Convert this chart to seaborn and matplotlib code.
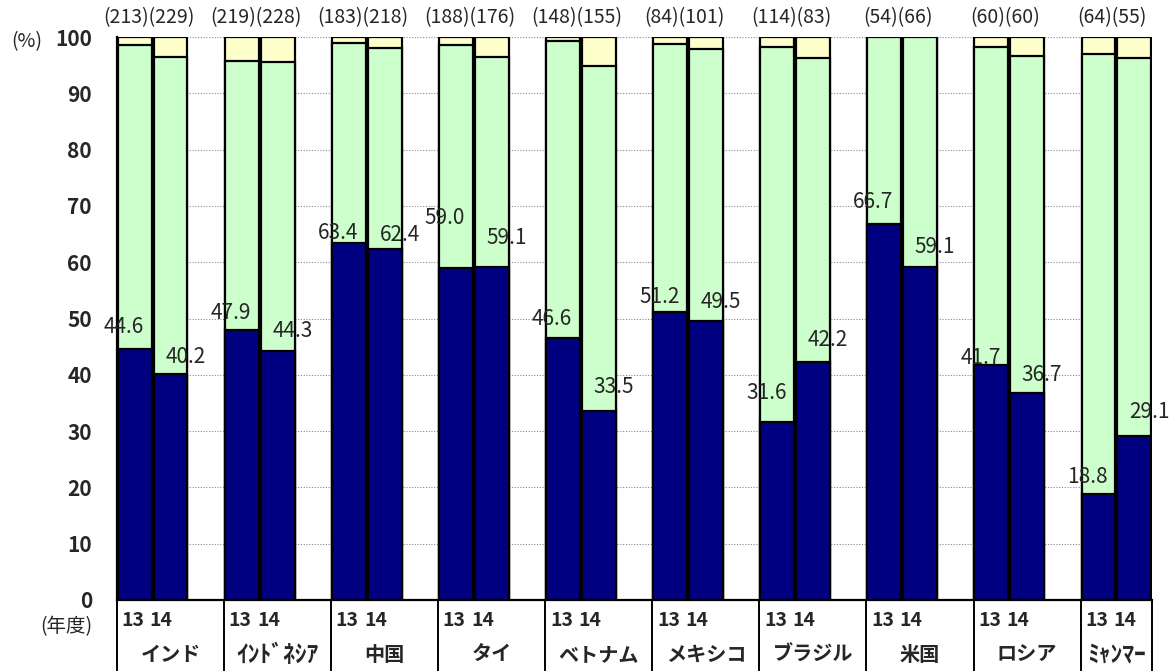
import numpy as np
import pandas as pd
import matplotlib
matplotlib.use("Agg")
import matplotlib.pyplot as plt
import matplotlib.transforms as mtransforms
import seaborn as sns

# --- Data ---
countries = ["インド", "ｲﾝﾄﾞﾈｼｱ", "中国", "タイ", "ベトナム",
             "メキシコ", "ブラジル", "米国", "ロシア", "ﾐｬﾝﾏｰ"]
years = ["13", "14"]
navy_13 = [44.6, 47.9, 63.4, 59.0, 46.6, 51.2, 31.6, 66.7, 41.7, 18.8]
navy_14 = [40.2, 44.3, 62.4, 59.1, 33.5, 49.5, 42.2, 59.1, 36.7, 29.1]
yellow_13 = [1.4, 4.2, 1.0, 1.5, 0.7, 1.2, 1.7, 0.0, 1.7, 3.1]
yellow_14 = [3.6, 4.5, 2.0, 3.6, 5.2, 2.1, 3.8, 0.0, 3.3, 3.8]
n_13 = [213, 219, 183, 188, 148, 84, 114, 54, 60, 64]
n_14 = [229, 228, 218, 176, 155, 101, 83, 66, 60, 55]

NAVY = "#000080"
GREEN = "#CCFFCC"
YELLOW = "#FFFFCC"

# label lift above bar top (pixels), per bar (13, 14) in country order
label_lift = [22, 17, 17, 20, 10, 14, 50, 29, 19, 24,
              15, 19, 29, 22, 22, 20, 7, 18, 17, 24]

# --- Build long table ---
rows = []
for g, c in enumerate(countries):
    for k, (nv, yl) in enumerate([(navy_13[g], yellow_13[g]), (navy_14[g], yellow_14[g])]):
        rows.append({"pos": 3 * g + 0.5 + k, "country": c, "year": years[k],
                     "navy": nv, "green_top": 100 - yl, "total": 100.0})
df = pd.DataFrame(rows)

sns.set_style("white")
plt.rcParams["font.family"] = ["Noto Sans CJK JP", "DejaVu Sans"]

fig = plt.figure(figsize=(11.73, 6.71), dpi=100)
ax = fig.add_axes([117 / 1173, 71 / 671, 1035 / 1173, 563 / 671])

common = dict(x="pos", native_scale=True, width=0.95, edgecolor="black",
              linewidth=1.6, saturation=1, errorbar=None, ax=ax, zorder=2)
sns.barplot(data=df, y="total", color=YELLOW, **common)
sns.barplot(data=df, y="green_top", color=GREEN, **common)
sns.barplot(data=df, y="navy", color=NAVY, **common)

ax.set_xlim(0, 29)
ax.set_ylim(0, 100)
ax.set_yticks(np.arange(0, 101, 10))
ax.set_xticks([])
ax.set_xlabel("")
ax.set_ylabel("")
ax.yaxis.grid(True, linestyle=(0, (1, 1.5)), color="#888888", linewidth=0.8, zorder=0)
ax.set_axisbelow(True)
for s in ["top", "right"]:
    ax.spines[s].set_visible(False)
for s in ["left", "bottom"]:
    ax.spines[s].set_color("black")
    ax.spines[s].set_linewidth(1.6)
ax.tick_params(axis="y", direction="in", length=5, width=1, color="black",
               pad=18, labelsize=15)
for t in ax.get_yticklabels():
    t.set_fontweight("bold")

# value labels for navy segment
for i, r in df.iterrows():
    dx = -11 if r["year"] == "13" else 15
    ax.annotate(f"{r['navy']:.1f}", xy=(r["pos"], r["navy"]), xytext=(dx, label_lift[i]),
                textcoords="offset pixels", ha="center", va="center", fontsize=15,
                zorder=5)

# sample counts on top
for g in range(len(countries)):
    ax.annotate(f"({n_13[g]})({n_14[g]})", xy=(3 * g + 1, 100), xytext=(-4, 19),
                textcoords="offset pixels", ha="center", va="center", fontsize=14,
                annotation_clip=False)

# table-like category axis under the plot
trans = mtransforms.blended_transform_factory(ax.transData, ax.transAxes)
for g in range(len(countries) + 1):
    xg = min(3 * g, 29)
    ax.plot([xg, xg], [0, -0.14], transform=trans, color="black", lw=1.4,
            clip_on=False, zorder=6)
for g, c in enumerate(countries):
    ax.text(3 * g + 0.13, -0.036, years[0], transform=trans, ha="left", va="center",
            fontsize=14, fontweight="bold")
    ax.text(3 * g + 0.92, -0.036, years[1], transform=trans, ha="left", va="center",
            fontsize=14, fontweight="bold")
    xc = (3 * g + min(3 * g + 3, 29)) / 2
    half_width = any("\uff61" <= ch <= "\uff9f" for ch in c)
    ax.text(xc, -0.097, c, transform=trans, ha="center", va="center",
            fontsize=17 if half_width else 14.5, fontweight="bold")

fig.text(27 / 1173, 1 - 42 / 671, "(%)", ha="center", va="center", fontsize=14)
fig.text(66 / 1173, 1 - 627 / 671, "(年度)", ha="center", va="center", fontsize=14)

fig.savefig("out.png", dpi=100)
